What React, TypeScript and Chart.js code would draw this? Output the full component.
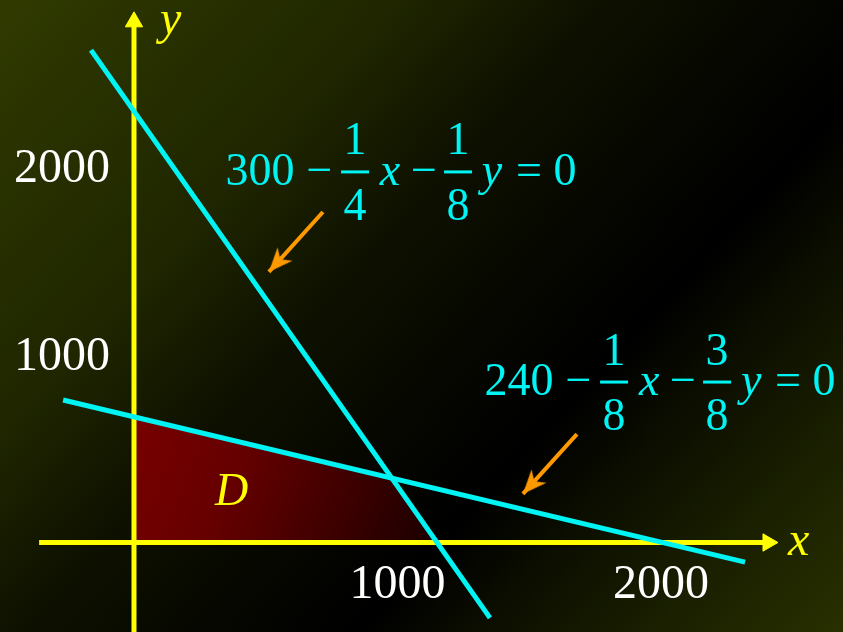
import React, { useEffect, useRef } from 'react';
import { Chart, registerables } from 'chart.js';

Chart.register(...registerables);

// ---- data ----
// constraint line 300 - x/4 - y/8 = 0 (endpoints as drawn)
const line1X = [-163, 1351];
const line1Y = [2615, -400];
// constraint line 240 - x/8 - 3y/8 = 0 (endpoints as drawn)
const line2X = [-269, 2319];
const line2Y = [757, -104];
// upper boundary of the feasible region D (filled down to y = 0)
const regionX = [0, 972, 1150];
const regionY = [666, 347, 0];
// coordinate axes
const xAxisX = [-360, 2406];
const xAxisY = [0, 0];
const yAxisX = [0, 0];
const yAxisY = [-480, 2765];
// pointer arrows to the equations
const arrow1X = [717, 512];
const arrow1Y = [1755, 1437];
const arrow2X = [1681, 1476];
const arrow2Y = [576, 258];
// tick labels
const xTickValues = [1000, 2000];
const xTickLabels = ['1000', '2000'];
const yTickValues = [1000, 2000];
const yTickLabels = ['1000', '2000'];
// equations
const eq1Parts: (string | string[])[] = ['300', '−', ['1', '4'], 'x', '−', ['1', '8'], 'y', '=', '0'];
const eq2Parts: (string | string[])[] = ['240', '−', ['1', '8'], 'x', '−', ['3', '8'], 'y', '=', '0'];

// ---- layout / style config ----
const X_MIN = -508.5;
const X_MAX = 2690.7;
const Y_MIN = -475.3;
const Y_MAX = 2881;
const eqOffsets = [32, 91.5, 127, 162, 196, 230, 264, 301, 337];
const eqAnchors = [
  { x: 357, y: 1899, parts: eq1Parts },
  { x: 1340, y: 783, parts: eq2Parts },
];
const italicLabels = [
  { text: 'y', x: 99, y: 2698 },
  { text: 'x', x: 2482, y: -66 },
  { text: 'D', x: 307, y: 199 },
];

const SERIF = '"Liberation Serif", "Times New Roman", serif';
const CYAN = '#00f4f4';
const YELLOW = '#ffff00';
const ORANGE = '#ff9900';

function makeArrowHead(color: string): HTMLCanvasElement {
  const c = document.createElement('canvas');
  c.width = 60;
  c.height = 60;
  const g = c.getContext('2d')!;
  g.fillStyle = color;
  g.beginPath();
  g.moveTo(30, 30);
  g.lineTo(40, 54);
  g.lineTo(30, 47);
  g.lineTo(20, 54);
  g.closePath();
  g.fill();
  return c;
}

const pts = (xs: number[], ys: number[]) => xs.map((x, i) => ({ x, y: ys[i] }));
const ok = (...v: number[]) => v.every((n) => Number.isFinite(n));

export default function App() {
  const ref = useRef<HTMLCanvasElement>(null);

  useEffect(() => {
    document.body.style.margin = '0';
    const canvas = ref.current!;
    const arrowImg = makeArrowHead(ORANGE);

    const arrowRotation = (c: any) => {
      const d = c.dataset.data;
      const xs = c.chart.scales && c.chart.scales.x;
      const ys = c.chart.scales && c.chart.scales.y;
      if (!xs || !ys) return 0;
      const dx = xs.getPixelForValue(d[1].x) - xs.getPixelForValue(d[0].x);
      const dy = ys.getPixelForValue(d[1].y) - ys.getPixelForValue(d[0].y);
      if (!ok(dx, dy)) return 0;
      return (Math.atan2(dx, -dy) * 180) / Math.PI;
    };

    const bgPlugin = {
      id: 'bg',
      beforeDraw(chart: any) {
        const { ctx, width, height } = chart;
        const g = ctx.createLinearGradient(0, 0, 771, 710);
        g.addColorStop(0, 'rgb(48,58,0)');
        g.addColorStop(0.28, 'rgb(31,38,0)');
        g.addColorStop(0.42, 'rgb(14,17,0)');
        g.addColorStop(0.58, 'rgb(4,5,0)');
        g.addColorStop(0.66, 'rgb(0,0,0)');
        g.addColorStop(0.75, 'rgb(12,15,0)');
        g.addColorStop(0.87, 'rgb(26,32,0)');
        g.addColorStop(1, 'rgb(40,48,0)');
        ctx.save();
        ctx.fillStyle = g;
        ctx.fillRect(0, 0, width, height);
        ctx.restore();
      },
    };

    const textPlugin = {
      id: 'texts',
      afterDraw(chart: any) {
        const { ctx } = chart;
        const xs = chart.scales.x;
        const ys = chart.scales.y;
        const x0 = xs.getPixelForValue(0);
        const y0 = ys.getPixelForValue(0);
        ctx.save();
        // tick labels
        ctx.fillStyle = '#ffffff';
        ctx.font = `48px ${SERIF}`;
        ctx.textBaseline = 'alphabetic';
        ctx.textAlign = 'center';
        xTickValues.forEach((v, i) => {
          ctx.fillText(xTickLabels[i], xs.getPixelForValue(v), y0 + 55.5);
        });
        ctx.textAlign = 'right';
        yTickValues.forEach((v, i) => {
          ctx.fillText(yTickLabels[i], x0 - 24, ys.getPixelForValue(v) + 16);
        });
        // axis names and region name
        ctx.fillStyle = YELLOW;
        ctx.textAlign = 'left';
        italicLabels.forEach((l) => {
          ctx.font = `italic ${l.text === 'D' ? 46 : 48}px ${SERIF}`;
          ctx.fillText(l.text, xs.getPixelForValue(l.x), ys.getPixelForValue(l.y));
        });
        // equations
        ctx.fillStyle = CYAN;
        eqAnchors.forEach((eq) => {
          const left = xs.getPixelForValue(eq.x);
          const base = ys.getPixelForValue(eq.y);
          eq.parts.forEach((p, i) => {
            const cx = left + eqOffsets[i];
            ctx.textAlign = 'center';
            if (Array.isArray(p)) {
              ctx.font = `46px ${SERIF}`;
              ctx.fillText(p[0], cx, base - 30.5);
              ctx.fillText(p[1], cx, base + 35);
              ctx.fillRect(cx - 14, base - 14.5, 28, 3);
            } else if (p === 'x' || p === 'y') {
              ctx.font = `italic 46px ${SERIF}`;
              ctx.fillText(p, cx, base);
            } else {
              ctx.font = `46px ${SERIF}`;
              ctx.fillText(p, cx, base);
            }
          });
        });
        ctx.restore();
      },
    };

    const regionFill = (c: any) => {
      const chart = c.chart;
      const xs = chart.scales && chart.scales.x;
      const ys = chart.scales && chart.scales.y;
      if (!xs || !ys) return '#600000';
      const x1 = xs.getPixelForValue(regionX[0]);
      const y1 = ys.getPixelForValue(regionY[0]);
      const x2 = xs.getPixelForValue(regionX[regionX.length - 1]);
      const y2 = ys.getPixelForValue(0);
      if (!ok(x1, y1, x2, y2)) return '#600000';
      const g = chart.ctx.createLinearGradient(x1, y1, x2, y2);
      g.addColorStop(0, '#780000');
      g.addColorStop(0.35, '#650000');
      g.addColorStop(1, '#1a0000');
      return g;
    };

    const lastIdx = (n: number, r: number) => (c: any) => (c.dataIndex === n - 1 ? r : 0);

    const chart = new Chart(canvas, {
      type: 'scatter',
      data: {
        datasets: [
          {
            data: pts(arrow1X, arrow1Y),
            showLine: true,
            borderColor: ORANGE,
            borderWidth: 4,
            pointStyle: arrowImg as any,
            pointRadius: lastIdx(2, 10) as any,
            pointRotation: arrowRotation as any,
            order: 1,
          },
          {
            data: pts(arrow2X, arrow2Y),
            showLine: true,
            borderColor: ORANGE,
            borderWidth: 4,
            pointStyle: arrowImg as any,
            pointRadius: lastIdx(2, 10) as any,
            pointRotation: arrowRotation as any,
            order: 1,
          },
          {
            data: pts(line1X, line1Y),
            showLine: true,
            borderColor: CYAN,
            borderWidth: 5,
            pointRadius: 0,
            order: 2,
          },
          {
            data: pts(line2X, line2Y),
            showLine: true,
            borderColor: CYAN,
            borderWidth: 5,
            pointRadius: 0,
            order: 2,
          },
          {
            data: pts(xAxisX, xAxisY),
            showLine: true,
            borderColor: YELLOW,
            borderWidth: 5,
            pointStyle: 'triangle',
            pointRadius: lastIdx(2, 10) as any,
            pointRotation: 90,
            pointBackgroundColor: YELLOW,
            pointBorderColor: YELLOW,
            pointBorderWidth: 1,
            order: 3,
          },
          {
            data: pts(yAxisX, yAxisY),
            showLine: true,
            borderColor: YELLOW,
            borderWidth: 5,
            pointStyle: 'triangle',
            pointRadius: lastIdx(2, 10) as any,
            pointRotation: 0,
            pointBackgroundColor: YELLOW,
            pointBorderColor: YELLOW,
            pointBorderWidth: 1,
            order: 3,
          },
          {
            data: pts(regionX, regionY),
            showLine: true,
            fill: 'origin',
            backgroundColor: regionFill as any,
            borderColor: 'rgba(0,0,0,0)',
            borderWidth: 1,
            pointRadius: 0,
            order: 4,
          },
        ],
      },
      options: {
        animation: false,
        responsive: false,
        maintainAspectRatio: false,
        events: [],
        layout: { padding: 0, autoPadding: false },
        plugins: {
          legend: { display: false },
          tooltip: { enabled: false },
        },
        scales: {
          x: { type: 'linear', min: X_MIN, max: X_MAX, display: false },
          y: { type: 'linear', min: Y_MIN, max: Y_MAX, display: false },
        },
      },
      plugins: [bgPlugin, textPlugin],
    });
    return () => chart.destroy();
  }, []);

  return (
    <div style={{ width: 843, height: 632 }}>
      <canvas ref={ref} width={843} height={632} style={{ display: 'block' }} />
    </div>
  );
}
